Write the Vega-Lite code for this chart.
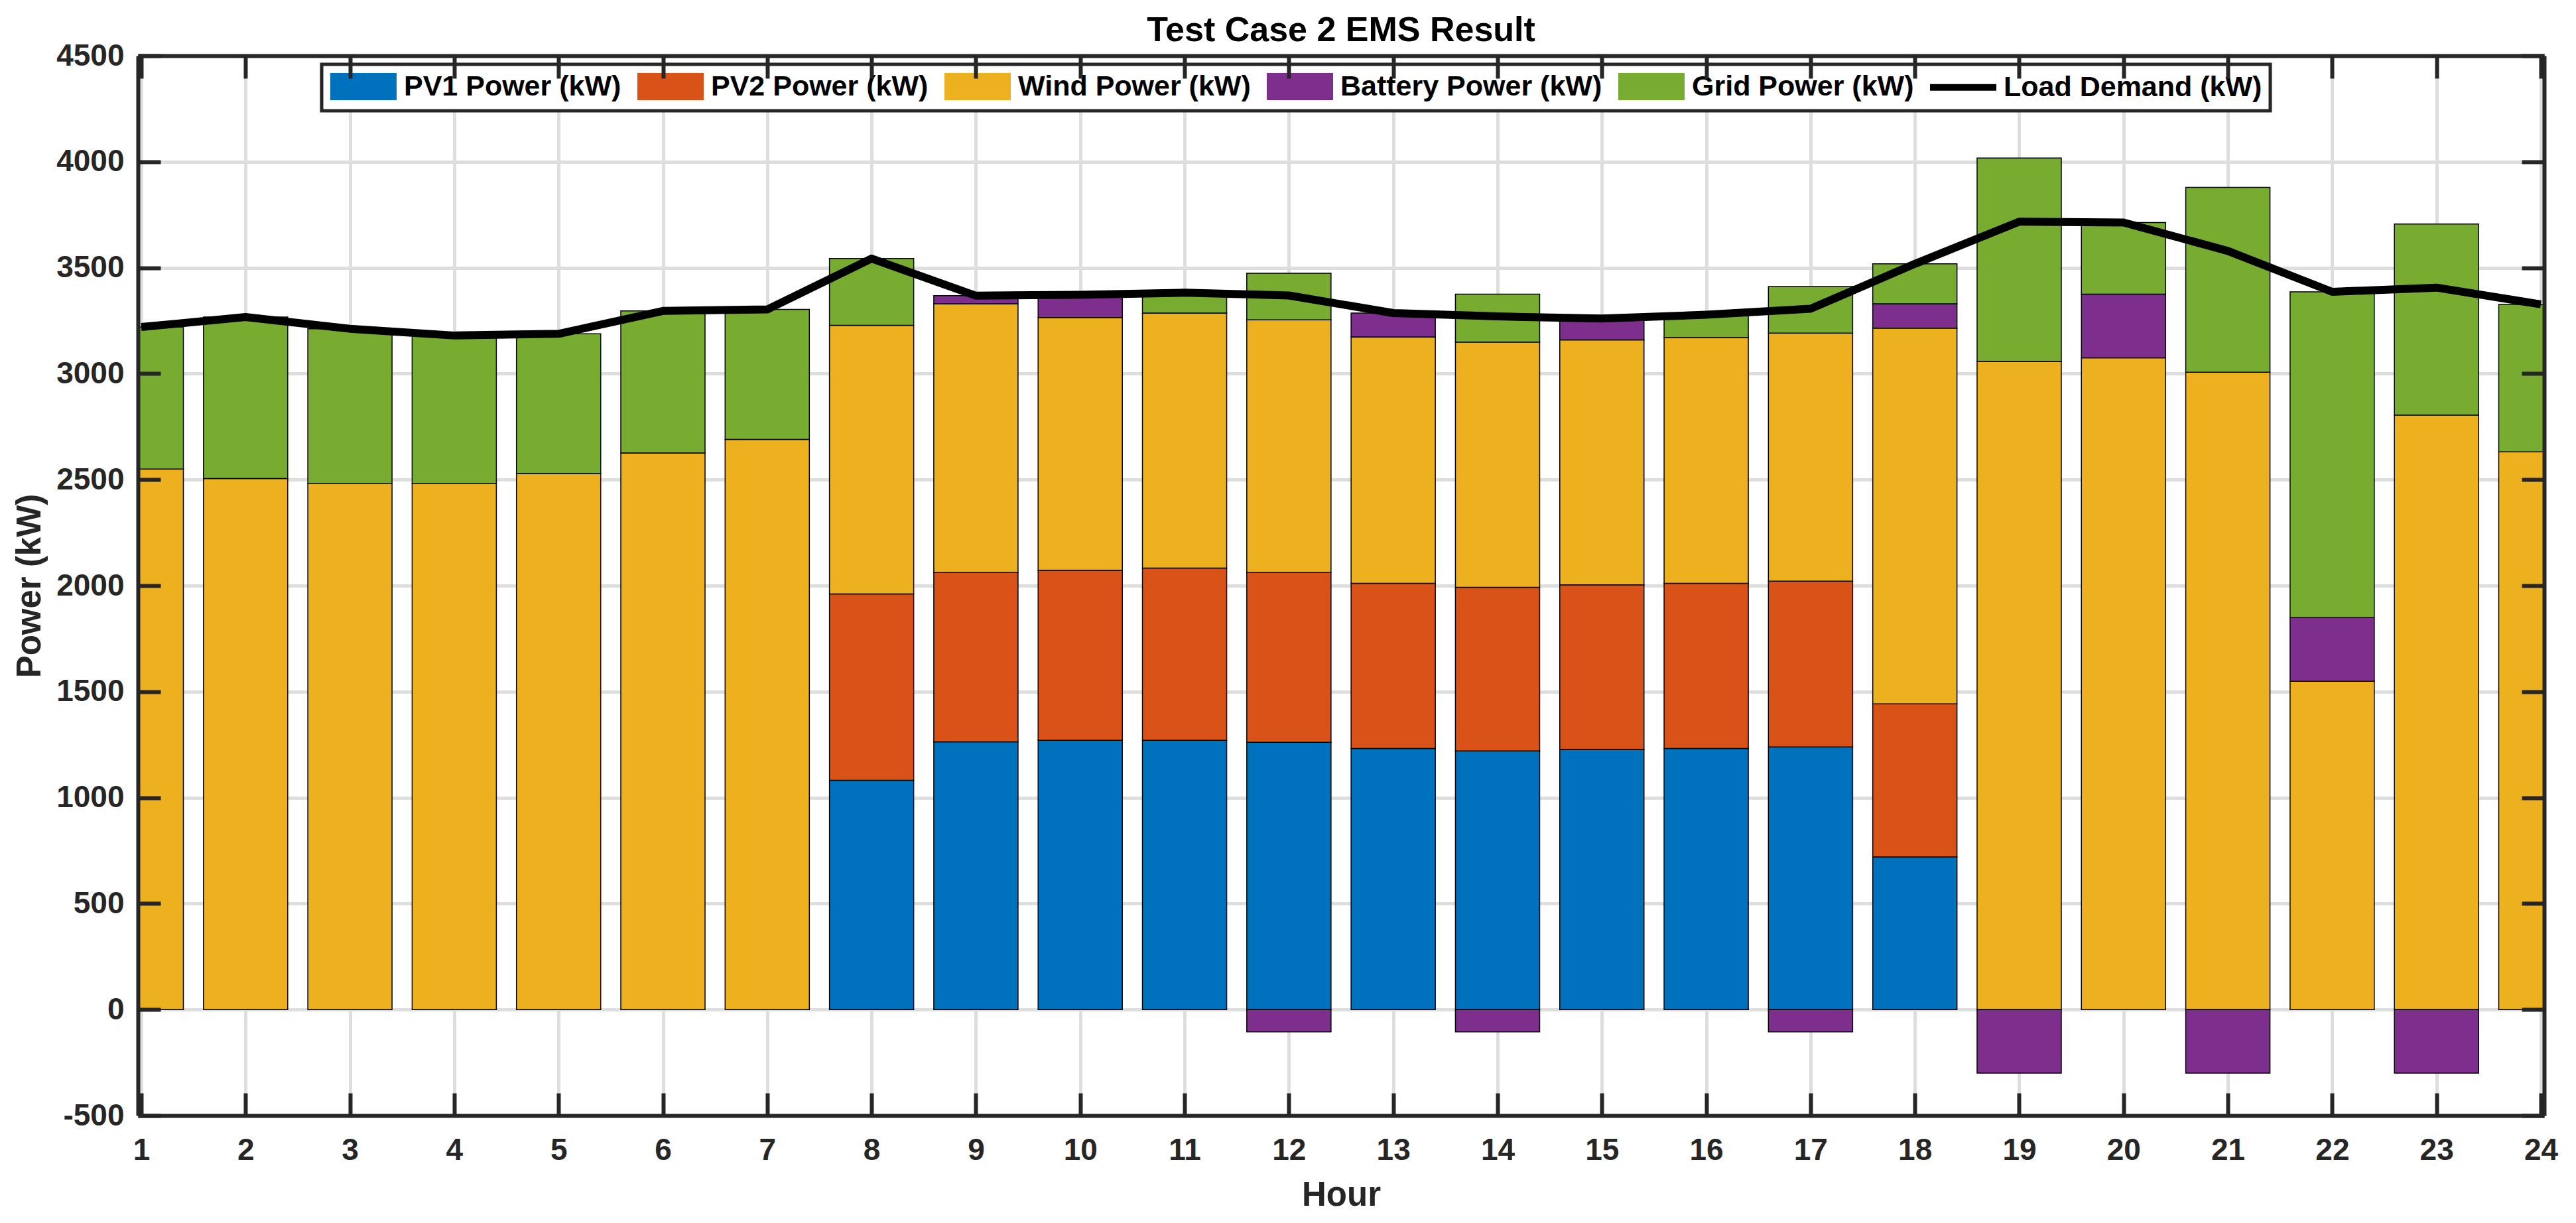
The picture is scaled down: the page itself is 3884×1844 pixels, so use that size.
{
  "$schema": "https://vega.github.io/schema/vega-lite/v6.json",
  "width": 3628,
  "height": 1598,
  "autosize": "none",
  "padding": {"left": 208, "top": 84, "right": 48, "bottom": 162},
  "background": "white",
  "config": {
    "font": "Liberation Sans",
    "view": {"stroke": null},
    "legend": {"strokeWidth": 5, "symbolOpacity": 1, "symbolStrokeColor": "black", "symbolStrokeWidth": 2}
  },
  "title": {
    "text": "Test Case 2 EMS Result",
    "fontSize": 52,
    "fontWeight": "bold",
    "color": "black",
    "anchor": "middle",
    "frame": "group",
    "offset": -12
  },
  "datasets": {
    "seriesOrder": [
      {"series": "PV1 Power (kW)", "rank": 1},
      {"series": "PV2 Power (kW)", "rank": 2},
      {"series": "Wind Power (kW)", "rank": 3},
      {"series": "Battery Power (kW)", "rank": 4},
      {"series": "Grid Power (kW)", "rank": 5}
    ],
    "supply": [
      {"hour": 1, "series": "Wind Power (kW)", "value": 2550},
      {"hour": 1, "series": "Grid Power (kW)", "value": 670},
      {"hour": 2, "series": "Wind Power (kW)", "value": 2505},
      {"hour": 2, "series": "Grid Power (kW)", "value": 762},
      {"hour": 3, "series": "Wind Power (kW)", "value": 2481},
      {"hour": 3, "series": "Grid Power (kW)", "value": 731},
      {"hour": 4, "series": "Wind Power (kW)", "value": 2481},
      {"hour": 4, "series": "Grid Power (kW)", "value": 699},
      {"hour": 5, "series": "Wind Power (kW)", "value": 2529},
      {"hour": 5, "series": "Grid Power (kW)", "value": 659},
      {"hour": 6, "series": "Wind Power (kW)", "value": 2626},
      {"hour": 6, "series": "Grid Power (kW)", "value": 670},
      {"hour": 7, "series": "Wind Power (kW)", "value": 2690},
      {"hour": 7, "series": "Grid Power (kW)", "value": 613},
      {"hour": 8, "series": "PV1 Power (kW)", "value": 1082},
      {"hour": 8, "series": "PV2 Power (kW)", "value": 879},
      {"hour": 8, "series": "Wind Power (kW)", "value": 1267},
      {"hour": 8, "series": "Grid Power (kW)", "value": 315},
      {"hour": 9, "series": "PV1 Power (kW)", "value": 1263},
      {"hour": 9, "series": "PV2 Power (kW)", "value": 799},
      {"hour": 9, "series": "Wind Power (kW)", "value": 1268},
      {"hour": 9, "series": "Battery Power (kW)", "value": 38},
      {"hour": 10, "series": "PV1 Power (kW)", "value": 1270},
      {"hour": 10, "series": "PV2 Power (kW)", "value": 803},
      {"hour": 10, "series": "Wind Power (kW)", "value": 1192},
      {"hour": 10, "series": "Battery Power (kW)", "value": 107},
      {"hour": 11, "series": "PV1 Power (kW)", "value": 1270},
      {"hour": 11, "series": "PV2 Power (kW)", "value": 813},
      {"hour": 11, "series": "Wind Power (kW)", "value": 1203},
      {"hour": 11, "series": "Grid Power (kW)", "value": 96},
      {"hour": 12, "series": "PV1 Power (kW)", "value": 1261},
      {"hour": 12, "series": "PV2 Power (kW)", "value": 801},
      {"hour": 12, "series": "Wind Power (kW)", "value": 1192},
      {"hour": 12, "series": "Battery Power (kW)", "value": -105},
      {"hour": 12, "series": "Grid Power (kW)", "value": 220},
      {"hour": 13, "series": "PV1 Power (kW)", "value": 1232},
      {"hour": 13, "series": "PV2 Power (kW)", "value": 779},
      {"hour": 13, "series": "Wind Power (kW)", "value": 1162},
      {"hour": 13, "series": "Battery Power (kW)", "value": 113},
      {"hour": 14, "series": "PV1 Power (kW)", "value": 1220},
      {"hour": 14, "series": "PV2 Power (kW)", "value": 772},
      {"hour": 14, "series": "Wind Power (kW)", "value": 1157},
      {"hour": 14, "series": "Battery Power (kW)", "value": -105},
      {"hour": 14, "series": "Grid Power (kW)", "value": 226},
      {"hour": 15, "series": "PV1 Power (kW)", "value": 1227},
      {"hour": 15, "series": "PV2 Power (kW)", "value": 777},
      {"hour": 15, "series": "Wind Power (kW)", "value": 1155},
      {"hour": 15, "series": "Battery Power (kW)", "value": 101},
      {"hour": 16, "series": "PV1 Power (kW)", "value": 1232},
      {"hour": 16, "series": "PV2 Power (kW)", "value": 779},
      {"hour": 16, "series": "Wind Power (kW)", "value": 1159},
      {"hour": 16, "series": "Grid Power (kW)", "value": 108},
      {"hour": 17, "series": "PV1 Power (kW)", "value": 1239},
      {"hour": 17, "series": "PV2 Power (kW)", "value": 782},
      {"hour": 17, "series": "Wind Power (kW)", "value": 1170},
      {"hour": 17, "series": "Battery Power (kW)", "value": -105},
      {"hour": 17, "series": "Grid Power (kW)", "value": 220},
      {"hour": 18, "series": "PV1 Power (kW)", "value": 720},
      {"hour": 18, "series": "PV2 Power (kW)", "value": 722},
      {"hour": 18, "series": "Wind Power (kW)", "value": 1773},
      {"hour": 18, "series": "Battery Power (kW)", "value": 115},
      {"hour": 18, "series": "Grid Power (kW)", "value": 188},
      {"hour": 19, "series": "Wind Power (kW)", "value": 3058},
      {"hour": 19, "series": "Battery Power (kW)", "value": -300},
      {"hour": 19, "series": "Grid Power (kW)", "value": 959},
      {"hour": 20, "series": "Wind Power (kW)", "value": 3075},
      {"hour": 20, "series": "Battery Power (kW)", "value": 300},
      {"hour": 20, "series": "Grid Power (kW)", "value": 338},
      {"hour": 21, "series": "Wind Power (kW)", "value": 3007},
      {"hour": 21, "series": "Battery Power (kW)", "value": -300},
      {"hour": 21, "series": "Grid Power (kW)", "value": 872},
      {"hour": 22, "series": "Wind Power (kW)", "value": 1549},
      {"hour": 22, "series": "Battery Power (kW)", "value": 300},
      {"hour": 22, "series": "Grid Power (kW)", "value": 1537},
      {"hour": 23, "series": "Wind Power (kW)", "value": 2805},
      {"hour": 23, "series": "Battery Power (kW)", "value": -300},
      {"hour": 23, "series": "Grid Power (kW)", "value": 901},
      {"hour": 24, "series": "Wind Power (kW)", "value": 2631},
      {"hour": 24, "series": "Grid Power (kW)", "value": 696}
    ],
    "load": [
      {"hour": 1, "series": "Load Demand (kW)", "value": 3220},
      {"hour": 2, "series": "Load Demand (kW)", "value": 3267},
      {"hour": 3, "series": "Load Demand (kW)", "value": 3212},
      {"hour": 4, "series": "Load Demand (kW)", "value": 3180},
      {"hour": 5, "series": "Load Demand (kW)", "value": 3188},
      {"hour": 6, "series": "Load Demand (kW)", "value": 3296},
      {"hour": 7, "series": "Load Demand (kW)", "value": 3303},
      {"hour": 8, "series": "Load Demand (kW)", "value": 3543},
      {"hour": 9, "series": "Load Demand (kW)", "value": 3368},
      {"hour": 10, "series": "Load Demand (kW)", "value": 3372},
      {"hour": 11, "series": "Load Demand (kW)", "value": 3382},
      {"hour": 12, "series": "Load Demand (kW)", "value": 3369},
      {"hour": 13, "series": "Load Demand (kW)", "value": 3286},
      {"hour": 14, "series": "Load Demand (kW)", "value": 3270},
      {"hour": 15, "series": "Load Demand (kW)", "value": 3260},
      {"hour": 16, "series": "Load Demand (kW)", "value": 3278},
      {"hour": 17, "series": "Load Demand (kW)", "value": 3306},
      {"hour": 18, "series": "Load Demand (kW)", "value": 3518},
      {"hour": 19, "series": "Load Demand (kW)", "value": 3717},
      {"hour": 20, "series": "Load Demand (kW)", "value": 3713},
      {"hour": 21, "series": "Load Demand (kW)", "value": 3579},
      {"hour": 22, "series": "Load Demand (kW)", "value": 3386},
      {"hour": 23, "series": "Load Demand (kW)", "value": 3406},
      {"hour": 24, "series": "Load Demand (kW)", "value": 3327}
    ]
  },
  "layer": [
    {
      "data": {"name": "supply"},
      "transform": [
        {
          "lookup": "series",
          "from": {"data": {"name": "seriesOrder"}, "key": "series", "fields": ["rank"]}
        }
      ],
      "mark": {"type": "bar", "width": 127, "stroke": "black", "strokeWidth": 1.5, "clip": true},
      "encoding": {
        "x": {
          "field": "hour",
          "type": "quantitative",
          "scale": {"domain": [1, 24], "nice": false, "zero": false},
          "axis": {
            "orient": "bottom",
            "values": [1, 2, 3, 4, 5, 6, 7, 8, 9, 10, 11, 12, 13, 14, 15, 16, 17, 18, 19, 20, 21, 22, 23, 24],
            "grid": true, "gridColor": "#dedede", "gridWidth": 5,
            "domain": false, "ticks": false, "labels": false, "title": null, "zindex": 0
          }
        },
        "y": {
          "field": "value",
          "type": "quantitative",
          "stack": "zero",
          "scale": {"domain": [-500, 4500], "nice": false, "zero": false},
          "axis": {
            "orient": "left",
            "values": [-500, 0, 500, 1000, 1500, 2000, 2500, 3000, 3500, 4000, 4500],
            "grid": true, "gridColor": "#dedede", "gridWidth": 5,
            "domain": false, "ticks": false, "labels": false, "title": null, "zindex": 0
          }
        },
        "order": {"field": "rank", "type": "quantitative", "sort": "ascending"},
        "color": {
          "field": "series",
          "type": "nominal",
          "scale": {
            "domain": ["PV1 Power (kW)", "PV2 Power (kW)", "Wind Power (kW)", "Battery Power (kW)", "Grid Power (kW)", "Load Demand (kW)"],
            "range": ["#0072BD", "#D95319", "#EDB120", "#7E2F8E", "#77AC30", "#000000"]
          },
          "legend": {
            "orient": "none", "legendX": 277, "legendY": 13, "direction": "horizontal", "title": null,
            "labelFontSize": 43, "labelFontWeight": "bold", "labelColor": "black", "labelLimit": 1000,
            "symbolSize": 1681, "labelOffset": 69, "columnPadding": 20, "padding": 12,
            "strokeColor": "#262626", "fillColor": "white"
          }
        }
      }
    },
    {
      "data": {"name": "load"},
      "mark": {"type": "line", "color": "black", "strokeWidth": 12, "strokeJoin": "round"},
      "encoding": {
        "x": {
          "field": "hour",
          "type": "quantitative",
          "axis": {
            "orient": "bottom",
            "values": [1, 2, 3, 4, 5, 6, 7, 8, 9, 10, 11, 12, 13, 14, 15, 16, 17, 18, 19, 20, 21, 22, 23, 24],
            "grid": false,
            "domain": true, "domainColor": "#262626", "domainWidth": 6,
            "ticks": true, "tickSize": -34, "tickWidth": 6, "tickColor": "#262626",
            "labels": true, "labelFontSize": 46, "labelFontWeight": "bold", "labelColor": "#262626",
            "labelPadding": 64, "labelFlush": false, "labelOverlap": false,
            "title": "Hour", "titleFontSize": 51, "titleFontWeight": "bold", "titleColor": "#262626",
            "titleY": 135, "titleBaseline": "alphabetic",
            "zindex": 1
          }
        },
        "y": {
          "field": "value",
          "type": "quantitative",
          "axis": {
            "orient": "left",
            "values": [-500, 0, 500, 1000, 1500, 2000, 2500, 3000, 3500, 4000, 4500],
            "grid": false,
            "domain": true, "domainColor": "#262626", "domainWidth": 6,
            "ticks": true, "tickSize": -34, "tickWidth": 6, "tickColor": "#262626",
            "labels": true, "labelFontSize": 46, "labelFontWeight": "bold", "labelColor": "#262626",
            "labelPadding": 55, "labelOverlap": false, "labelExpr": "datum.value + ''",
            "title": "Power (kW)", "titleFontSize": 51, "titleFontWeight": "bold", "titleColor": "#262626",
            "titleX": -148, "titleY": 799, "titleAngle": 270, "titleAlign": "center", "titleBaseline": "alphabetic",
            "zindex": 1
          }
        }
      }
    },
    {
      "data": {"name": "load"},
      "mark": {"type": "point", "filled": true, "opacity": 0, "stroke": "black"},
      "encoding": {
        "x": {
          "field": "hour",
          "type": "quantitative",
          "axis": {
            "orient": "top",
            "values": [1, 2, 3, 4, 5, 6, 7, 8, 9, 10, 11, 12, 13, 14, 15, 16, 17, 18, 19, 20, 21, 22, 23, 24],
            "grid": false,
            "domain": true, "domainColor": "#262626", "domainWidth": 6,
            "ticks": true, "tickSize": -34, "tickWidth": 6, "tickColor": "#262626",
            "labels": false, "title": null, "zindex": 1
          }
        },
        "y": {
          "field": "value",
          "type": "quantitative",
          "axis": {
            "orient": "right",
            "values": [-500, 0, 500, 1000, 1500, 2000, 2500, 3000, 3500, 4000, 4500],
            "grid": false,
            "domain": true, "domainColor": "#262626", "domainWidth": 6,
            "ticks": true, "tickSize": -34, "tickWidth": 6, "tickColor": "#262626",
            "labels": false, "title": null, "zindex": 1
          }
        },
        "color": {
          "field": "series",
          "type": "nominal",
          "scale": {
            "domain": ["PV1 Power (kW)", "PV2 Power (kW)", "Wind Power (kW)", "Battery Power (kW)", "Grid Power (kW)", "Load Demand (kW)"],
            "range": ["#0072BD", "#D95319", "#EDB120", "#7E2F8E", "#77AC30", "#000000"]
          },
          "legend": {
            "orient": "none", "legendX": 277, "legendY": 13, "direction": "horizontal", "title": null,
            "labelFontSize": 43, "labelFontWeight": "bold", "labelColor": "black", "labelLimit": 1000,
            "symbolSize": 1681, "labelOffset": 69, "columnPadding": 20, "padding": 12,
            "strokeColor": "#262626", "fillColor": "white"
          }
        },
        "shape": {
          "field": "series",
          "type": "nominal",
          "scale": {
            "domain": ["PV1 Power (kW)", "PV2 Power (kW)", "Wind Power (kW)", "Battery Power (kW)", "Grid Power (kW)", "Load Demand (kW)"],
            "range": [
              "M-1,-1L3.878,-1L3.878,1L-1,1Z",
              "M-1,-1L3.878,-1L3.878,1L-1,1Z",
              "M-1,-1L3.878,-1L3.878,1L-1,1Z",
              "M-1,-1L3.878,-1L3.878,1L-1,1Z",
              "M-1,-1L3.878,-1L3.878,1L-1,1Z",
              "M-1,-0.24L3.878,-0.24L3.878,0.24L-1,0.24Z"
            ]
          },
          "legend": {
            "orient": "none", "legendX": 277, "legendY": 13, "direction": "horizontal", "title": null,
            "labelFontSize": 43, "labelFontWeight": "bold", "labelColor": "black", "labelLimit": 1000,
            "symbolSize": 1681, "labelOffset": 69, "columnPadding": 20, "padding": 12,
            "strokeColor": "#262626", "fillColor": "white"
          }
        }
      }
    }
  ],
  "resolve": {"axis": {"x": "independent", "y": "independent"}}
}
